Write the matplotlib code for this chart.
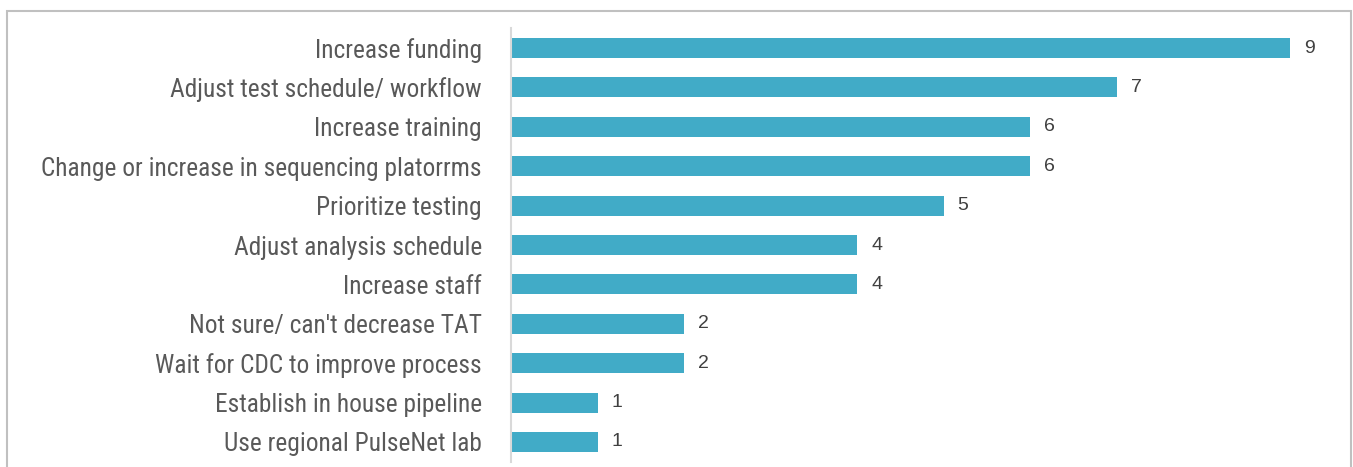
import matplotlib.pyplot as plt
from matplotlib import font_manager
from matplotlib.patches import Rectangle

categories = [
    "Increase funding",
    "Adjust test schedule/ workflow",
    "Increase training",
    "Change or increase in sequencing platorrms",
    "Prioritize testing",
    "Adjust analysis schedule",
    "Increase staff",
    "Not sure/ can't decrease TAT",
    "Wait for CDC to improve process",
    "Establish in house pipeline",
    "Use regional PulseNet lab",
]
counts = [9, 7, 6, 6, 5, 4, 4, 2, 2, 1, 1]

bar_color = "#41abc7"
text_color = "#595959"

# narrowest sans available for the category labels
installed = {f.name for f in font_manager.fontManager.ttflist}
label_font = "DejaVu Sans"
for name in ["Liberation Sans Narrow", "Roboto Condensed", "Arial Narrow",
             "Roboto", "Liberation Sans"]:
    if name in installed:
        label_font = name
        break

W, H = 1353, 467
fig = plt.figure(figsize=(W / 100, H / 100), dpi=100)

# light grey frame round the chart
fig.patches.append(Rectangle((7 / W, -0.05), (1351 - 7) / W, 1.05 - 11 / H,
                             transform=fig.transFigure, fill=False,
                             edgecolor="#c0c0c0", linewidth=1.5))

ax = fig.add_axes([511 / W, 1 - 461.7 / H, (1330 - 511) / W, (461.7 - 28.3) / H])

ypos = list(range(len(categories)))
ax.barh(ypos, counts, height=0.51, color=bar_color)
ax.set_xlim(0, (1330 - 511) / 86.56)
ax.set_ylim(len(categories) - 0.5, -0.5)

ax.set_yticks(ypos)
labels = ax.set_yticklabels(categories, family=[label_font, "DejaVu Sans"],
                            fontsize=16, color=text_color)
ax.tick_params(axis="y", length=0, pad=21)
ax.set_xticks([])

# shrink the label size so the longest label spans about 442 px
renderer = fig.canvas.get_renderer()
widest = max(t.get_window_extent(renderer).width for t in labels)
size = min(19, 16 * 442 / widest)
for t in labels:
    t.set_fontsize(size)

for y, v in zip(ypos, counts):
    ax.annotate(str(v), (v, y), xytext=(10, 0), textcoords="offset points",
                va="center", ha="left", fontsize=14, color="#404040",
                family=["Liberation Sans", "DejaVu Sans"])

for s in ["top", "right", "bottom"]:
    ax.spines[s].set_visible(False)
ax.spines["left"].set_color("#d9d9d9")
ax.spines["left"].set_linewidth(1.5)

fig.savefig("out.png", dpi=100)
